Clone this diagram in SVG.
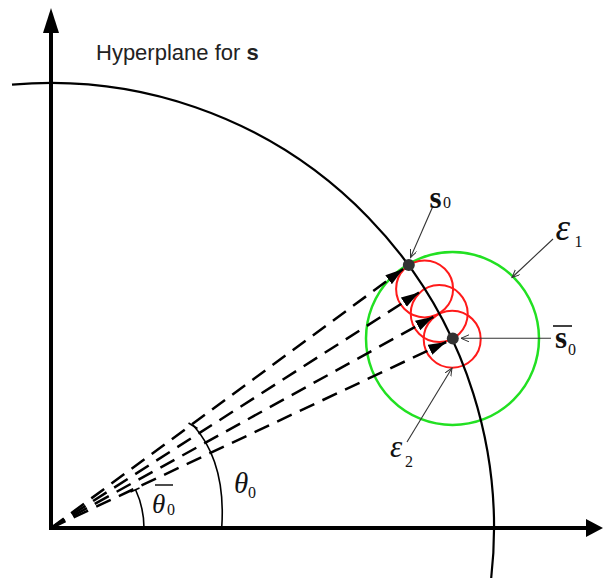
<svg xmlns="http://www.w3.org/2000/svg" width="603" height="581" viewBox="0 0 603 581">
<style>
.axis{stroke:#000;stroke-width:4;fill:none}
.hp{stroke:#000;stroke-width:2.2;fill:none}
.dash{stroke:#000;stroke-width:2.5;stroke-dasharray:16 9;fill:none}
.red{stroke:#ff1a1a;stroke-width:2;fill:none}
.green{stroke:#22e022;stroke-width:2.5;fill:none}
.lead{stroke:#333;stroke-width:1.1;fill:none}
.ang{stroke:#000;stroke-width:1.6;fill:none}
.dot{fill:#333}
.math{font-family:"Liberation Serif","Times New Roman",serif;fill:#111}
.it{font-style:italic}
.bd{font-weight:bold}
.sans{font-family:"Liberation Sans",Arial,sans-serif;fill:#222}
</style>
<defs>
<marker id="ah" markerUnits="userSpaceOnUse" markerWidth="20" markerHeight="12" refX="18" refY="5.5" orient="auto">
<path d="M0,0 L18,5.5 L0,11 z" fill="#000"/>
</marker>
<marker id="oh" markerUnits="userSpaceOnUse" markerWidth="10" markerHeight="8" refX="8" refY="3.5" orient="auto">
<path d="M0,0 L8,3.5 L0,7" fill="none" stroke="#333" stroke-width="1"/>
</marker>
</defs>

<g id="axes">
<line class="axis" x1="51" y1="530" x2="51" y2="30"/>
<polygon points="51,8 43,33 59,33" fill="#000"/>
<line class="axis" x1="49" y1="528" x2="588" y2="528"/>
<polygon points="603,528 586,519 586,537" fill="#000"/>
</g>

<g id="epsilon1-circle">
<circle class="green" cx="452.5" cy="338.5" r="86.5"/>
</g>

<g id="epsilon2-circles">
<circle class="red" cx="424.6" cy="288.9" r="28.5"/>
<circle class="red" cx="439.2" cy="313.6" r="28.5"/>
<circle class="red" cx="452.2" cy="339.2" r="28.5"/>
</g>

<g id="hyperplane">
<path class="hp" d="M12,84.7 A443,445 0 0 1 491.2,578"/>
</g>

<g id="connectors">
<line class="dash" x1="51" y1="528" x2="403.1" y2="269.1" marker-end="url(#ah)"/>
<line class="dash" x1="51" y1="528" x2="419.0" y2="292.5" marker-end="url(#ah)"/>
<line class="dash" x1="51" y1="528" x2="433.4" y2="316.8" marker-end="url(#ah)"/>
<line class="dash" x1="51" y1="528" x2="446.2" y2="342.0" marker-end="url(#ah)"/>
<line class="lead" x1="433" y1="206" x2="410.5" y2="257.5" marker-end="url(#oh)"/>
<line class="lead" x1="553" y1="239" x2="512" y2="277.5" marker-end="url(#oh)"/>
<line class="lead" x1="551" y1="338.3" x2="461" y2="338.3" marker-end="url(#oh)"/>
<line class="lead" x1="407" y1="442" x2="452" y2="368" marker-end="url(#oh)"/>
</g>

<g id="angle-theta0bar">
<path class="ang" d="M144,528 A93,93 0 0 0 135.5,489.5"/>
<path class="ang" d="M130.5,492 L139.5,488"/>
</g>
<g id="angle-theta0">
<path class="ang" d="M221.7,528 C224,495 220,455 193,425"/>
<path class="ang" d="M188.5,423 L197.5,428.5"/>
</g>

<g id="s0">
<circle class="dot" cx="408.8" cy="265" r="6"/>
<text class="math bd" x="429.5" y="208" font-size="31">s</text>
<text class="math" x="443" y="208" font-size="16">0</text>
</g>

<g id="s0bar">
<circle class="dot" cx="452.8" cy="338.5" r="6"/>
<line x1="553" y1="326" x2="572" y2="326" stroke="#111" stroke-width="1.6"/>
<text class="math bd" x="555" y="348" font-size="31">s</text>
<text class="math" x="568" y="355" font-size="16">0</text>
</g>

<g id="epsilon1">
<text class="math it" x="555.5" y="240" font-size="37">ε</text>
<text class="math" x="574.5" y="247" font-size="16">1</text>
</g>

<g id="epsilon2">
<text class="math it" x="390" y="457" font-size="31">ε</text>
<text class="math" x="405" y="467" font-size="16">2</text>
</g>

<g id="theta0bar">
<line x1="155" y1="485" x2="173" y2="485" stroke="#111" stroke-width="1.5"/>
<text class="math it" x="152" y="513" font-size="27">θ</text>
<text class="math" x="167" y="515" font-size="16">0</text>
</g>

<g id="theta0">
<text class="math it" x="234" y="493" font-size="29">θ</text>
<text class="math" x="248" y="498" font-size="16">0</text>
</g>

<g id="hyperplane-label">
<text class="sans" x="96" y="60" font-size="22">Hyperplane for <tspan font-weight="bold">s</tspan></text>
</g>
</svg>
